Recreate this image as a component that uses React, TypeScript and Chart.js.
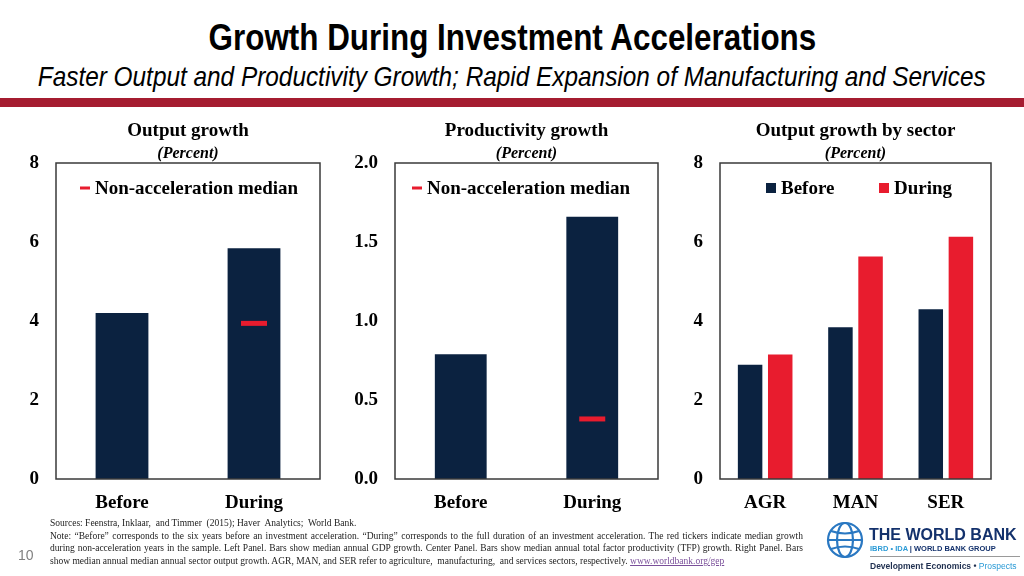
import React, { useEffect, useRef } from "react";
import { Chart, registerables } from "chart.js";

Chart.register(...registerables);

// ---------- data ----------
const outputCats = ["Before", "During"];
const outputValues = [4.2, 5.84];
const outputMedian = [null, 3.94];

const prodCats = ["Before", "During"];
const prodValues = [0.79, 1.66];
const prodMedian = [null, 0.38];

const sectorCats = ["AGR", "MAN", "SER"];
const sectorBefore = [2.89, 3.84, 4.3];
const sectorDuring = [3.15, 5.63, 6.13];

const ticksPercent = [0, 2, 4, 6, 8];
const ticksProd = [0, 0.5, 1.0, 1.5, 2.0];

// ---------- styles ----------
const NAVY = "#0b2240";
const RED = "#e81c2e";
const SERIF = '"Liberation Serif", "Times New Roman", serif';
const SANS = '"Liberation Sans", Arial, sans-serif';

const framePlugin = {
  id: "frame",
  afterDraw(chart: any) {
    const { ctx, chartArea: a } = chart;
    ctx.save();
    ctx.strokeStyle = "#3a3a3a";
    ctx.lineWidth = 1.5;
    ctx.strokeRect(a.left, a.top, a.right - a.left, a.bottom - a.top);
    ctx.restore();
  },
};

type LegendItem = { ds: number; kind: "line" | "box"; x: number };

function makeLegend(items: LegendItem[], markerY: number, baseline: number) {
  return {
    id: "inlineLegend",
    afterDraw(chart: any) {
      const { ctx, chartArea: a } = chart;
      ctx.save();
      ctx.font = `bold 19px ${SERIF}`;
      ctx.textBaseline = "alphabetic";
      for (const it of items) {
        const ds = chart.data.datasets[it.ds];
        ctx.fillStyle = ds.legendColor || ds.backgroundColor;
        if (it.kind === "line") {
          ctx.fillRect(a.left + it.x, a.top + markerY - 1.5, 10, 3);
        } else {
          ctx.fillRect(a.left + it.x, a.top + markerY - 5, 10, 10);
        }
        ctx.fillStyle = "#000";
        ctx.fillText(ds.label, a.left + it.x + 15, a.top + baseline);
      }
      ctx.restore();
    },
  };
}

function makeConfig(o: any) {
  const tickFont = { family: SERIF, size: 19, weight: "bold" as const };
  return {
    type: "bar",
    data: { labels: o.labels, datasets: o.datasets },
    options: {
      animation: false,
      responsive: false,
      events: [],
      layout: { padding: o.padding },
      plugins: {
        legend: { display: false },
        tooltip: { enabled: false },
        title: {
          display: true,
          text: o.title,
          fullSize: false,
          color: "#000",
          font: { family: SERIF, size: 19, weight: "bold", lineHeight: 1.2 },
          padding: { top: 0, bottom: 0 },
        },
        subtitle: {
          display: true,
          text: "(Percent)",
          fullSize: false,
          color: "#000",
          font: { family: SERIF, size: 16, weight: "bold", style: "italic", lineHeight: 1.2 },
          padding: { top: 1, bottom: 0 },
        },
      },
      scales: {
        x: {
          grid: { display: false, drawTicks: false },
          border: { display: false },
          ticks: { font: tickFont, color: "#000", padding: 13 },
          afterFit: (s: any) => {
            s.height = 40;
          },
        },
        y: {
          min: o.ticks[0],
          max: o.ticks[o.ticks.length - 1],
          grid: { display: false, drawTicks: false },
          border: { display: false },
          ticks: {
            font: tickFont,
            color: "#000",
            padding: 17,
            callback: (v: any) => o.fmt(Number(v)),
          },
          afterBuildTicks: (s: any) => {
            s.ticks = o.ticks.map((v: number) => ({ value: v }));
          },
          afterFit: (s: any) => {
            s.width = o.yWidth;
          },
        },
      },
    },
    plugins: [framePlugin, makeLegend(o.legend, 25, 30.5)],
  };
}

function medianDataset(data: (number | null)[]) {
  return {
    type: "line",
    label: "Non-acceleration median",
    data,
    showLine: false,
    pointStyle: "line",
    pointRadius: 13,
    pointHoverRadius: 13,
    pointBorderWidth: 5,
    pointBorderColor: RED,
    borderColor: RED,
    backgroundColor: RED,
    legendColor: RED,
    order: 0,
  };
}

const panel1 = () =>
  makeConfig({
    labels: outputCats,
    title: "Output growth",
    ticks: ticksPercent,
    fmt: (v: number) => String(v),
    padding: { top: 8, left: 10, right: 20, bottom: 3 },
    yWidth: 46,
    legend: [{ ds: 1, kind: "line", x: 24 }],
    datasets: [
      {
        type: "bar",
        label: "Output growth",
        data: outputValues,
        backgroundColor: NAVY,
        categoryPercentage: 1,
        barPercentage: 0.4,
        order: 1,
      },
      medianDataset(outputMedian),
    ],
  });

const panel2 = () =>
  makeConfig({
    labels: prodCats,
    title: "Productivity growth",
    ticks: ticksProd,
    fmt: (v: number) => v.toFixed(1),
    padding: { top: 8, left: 9, right: 22, bottom: 3 },
    yWidth: 46,
    legend: [{ ds: 1, kind: "line", x: 17 }],
    datasets: [
      {
        type: "bar",
        label: "Productivity growth",
        data: prodValues,
        backgroundColor: NAVY,
        categoryPercentage: 1,
        barPercentage: 0.394,
        order: 1,
      },
      medianDataset(prodMedian),
    ],
  });

const panel3 = () =>
  makeConfig({
    labels: sectorCats,
    title: "Output growth by sector",
    ticks: ticksPercent,
    fmt: (v: number) => String(v),
    padding: { top: 8, left: 10, right: 33, bottom: 3 },
    yWidth: 30,
    legend: [
      { ds: 0, kind: "box", x: 46 },
      { ds: 1, kind: "box", x: 159 },
    ],
    datasets: [
      {
        type: "bar",
        label: "Before",
        data: sectorBefore,
        backgroundColor: NAVY,
        categoryPercentage: 0.667,
        barPercentage: 0.813,
      },
      {
        type: "bar",
        label: "During",
        data: sectorDuring,
        backgroundColor: RED,
        categoryPercentage: 0.667,
        barPercentage: 0.813,
      },
    ],
  });

function Panel({ make, left, width }: { make: () => any; left: number; width: number }) {
  const ref = useRef<HTMLCanvasElement>(null);
  useEffect(() => {
    const chart = new Chart(ref.current as HTMLCanvasElement, make());
    return () => chart.destroy();
  }, []);
  return (
    <div style={{ position: "absolute", left, top: 112, width, height: 410 }}>
      <canvas ref={ref} width={width} height={410} style={{ display: "block" }} />
    </div>
  );
}

function Globe() {
  return (
    <svg width="40" height="40" viewBox="0 0 40 40" style={{ position: "absolute", left: 825, top: 520 }}>
      <g fill="none" stroke="#2a78c2" strokeWidth="2.2">
        <circle cx="20" cy="20" r="17" />
        <ellipse cx="20" cy="20" rx="8" ry="17" />
        <line x1="3" y1="20" x2="37" y2="20" />
        <path d="M6 11 Q20 16 34 11" />
        <path d="M6 29 Q20 24 34 29" />
      </g>
    </svg>
  );
}

export default function App() {
  const noteLine = { whiteSpace: "nowrap" as const, height: 12.7 };
  const justified = {
    width: 753,
    height: 12.7,
    textAlign: "justify" as const,
    textAlignLast: "justify" as const,
    whiteSpace: "nowrap" as const,
  };
  return (
    <div
      style={{
        position: "absolute",
        left: 0,
        top: 0,
        width: 1024,
        height: 576,
        overflow: "hidden",
        background: "#fff",
      }}
    >
      <div
        style={{
          position: "absolute",
          top: 16,
          left: -200,
          width: 1424,
          textAlign: "center",
          whiteSpace: "nowrap",
        }}
      >
        <span
          style={{
            display: "inline-block",
            transform: "scaleX(0.872)",
            transformOrigin: "center",
            fontFamily: SANS,
            fontWeight: "bold",
            fontSize: 36,
            lineHeight: "44px",
            color: "#000",
          }}
        >
          Growth During Investment Accelerations
        </span>
      </div>
      <div
        style={{
          position: "absolute",
          top: 60,
          left: -200,
          width: 1424,
          textAlign: "center",
          whiteSpace: "nowrap",
        }}
      >
        <span
          style={{
            display: "inline-block",
            transform: "scaleX(0.87)",
            transformOrigin: "center",
            fontFamily: SANS,
            fontStyle: "italic",
            fontSize: 28,
            lineHeight: "34px",
            color: "#000",
          }}
        >
          Faster Output and Productivity Growth; Rapid Expansion of Manufacturing and Services
        </span>
      </div>
      <div style={{ position: "absolute", top: 98, left: 0, width: 1024, height: 9, background: "#a51c30" }} />

      <Panel make={panel1} left={0} width={340} />
      <Panel make={panel2} left={340} width={340} />
      <Panel make={panel3} left={680} width={344} />

      <div
        style={{
          position: "absolute",
          left: 50,
          top: 517,
          fontFamily: SERIF,
          fontSize: 9.5,
          lineHeight: "12.7px",
          color: "#222",
        }}
      >
        <div style={noteLine}>Sources: Feenstra, Inklaar,&nbsp; and Timmer&nbsp; (2015); Haver&nbsp; Analytics;&nbsp; World Bank.</div>
        <div style={justified}>
          Note: “Before” corresponds to the six years before an investment acceleration. “During” corresponds to the full duration of an investment acceleration. The red tickers indicate median growth
        </div>
        <div style={justified}>
          during non-acceleration years in the sample. Left Panel. Bars show median annual GDP growth. Center Panel. Bars show median annual total factor productivity (TFP) growth. Right Panel. Bars
        </div>
        <div style={noteLine}>
          show median annual median annual sector output growth. AGR, MAN, and SER refer to agriculture,&nbsp; manufacturing,&nbsp; and services sectors, respectively.{" "}
          <span style={{ color: "#7a4f9a", textDecoration: "underline" }}>www.worldbank.org/gep</span>
        </div>
      </div>

      <div
        style={{
          position: "absolute",
          left: 18,
          top: 547,
          fontFamily: SANS,
          fontSize: 14,
          lineHeight: "16px",
          color: "#808080",
        }}
      >
        10
      </div>

      <Globe />
      <div
        style={{
          position: "absolute",
          left: 869,
          top: 526,
          fontFamily: SANS,
          fontWeight: "bold",
          fontSize: 16,
          lineHeight: "18px",
          color: "#13316c",
          whiteSpace: "nowrap",
        }}
      >
        THE WORLD BANK
      </div>
      <div
        style={{
          position: "absolute",
          left: 870,
          top: 544,
          fontFamily: SANS,
          fontWeight: "bold",
          fontSize: 7.5,
          lineHeight: "9px",
          color: "#13316c",
          whiteSpace: "nowrap",
        }}
      >
        <span style={{ color: "#2a9ad6" }}>IBRD • IDA</span> | WORLD BANK GROUP
      </div>
      <div style={{ position: "absolute", left: 870, top: 556, width: 150, height: 1, background: "#9a9a9a" }} />
      <div
        style={{
          position: "absolute",
          left: 870,
          top: 561,
          fontFamily: SANS,
          fontWeight: "bold",
          fontSize: 8.5,
          lineHeight: "10px",
          color: "#1f2f4f",
          whiteSpace: "nowrap",
        }}
      >
        Development Economics • <span style={{ color: "#2a9ad6", fontWeight: "normal" }}>Prospects</span>
      </div>
    </div>
  );
}
